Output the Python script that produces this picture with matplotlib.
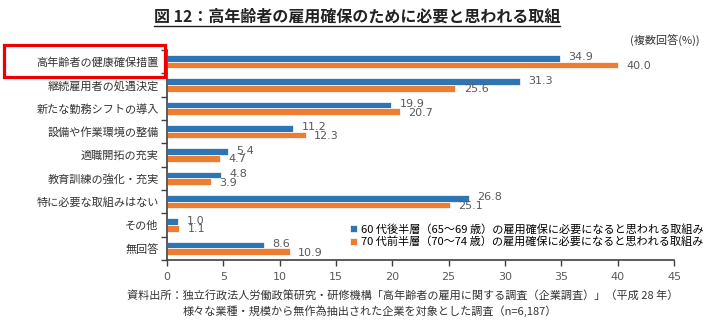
import numpy as np
import matplotlib
matplotlib.use("Agg")
from matplotlib import pyplot as plt
from matplotlib.patches import Rectangle
from matplotlib.lines import Line2D

plt.rcParams["font.family"] = ["Noto Sans CJK JP", "DejaVu Sans"]

# データ
categories = [
    "高年齢者の健康確保措置",
    "継続雇用者の処遇決定",
    "新たな勤務シフトの導入",
    "設備や作業環境の整備",
    "適職開拓の充実",
    "教育訓練の強化・充実",
    "特に必要な取組みはない",
    "その他",
    "無回答",
]
late60s = [34.9, 31.3, 19.9, 11.2, 5.4, 4.8, 26.8, 1.0, 8.6]
early70s = [40.0, 25.6, 20.7, 12.3, 4.7, 3.9, 25.1, 1.1, 10.9]
series_names = [
    "60 代後半層（65～69 歳）の雇用確保に必要になると思われる取組み",
    "70 代前半層（70～74 歳）の雇用確保に必要になると思われる取組み",
]
x_ticks = [0, 5, 10, 15, 20, 25, 30, 35, 40, 45]

BLUE = "#2E75B6"
ORANGE = "#ED7D31"
GRAY = "#595959"

W, H = 728, 322
fig = plt.figure(figsize=(W / 100, H / 100), dpi=100)
ax = fig.add_axes([167 / W, 62 / H, 507 / W, 210 / H])

y = np.arange(len(categories))
bh = 0.28
b1 = ax.barh(y - bh / 2, late60s, height=bh, color=BLUE, edgecolor="white", linewidth=0.5)
b2 = ax.barh(y + bh / 2, early70s, height=bh, color=ORANGE, edgecolor="white", linewidth=0.5)

# 数値ラベル
for yi, v in zip(y, late60s):
    ax.annotate(f"{v:.1f}", (v, yi - bh / 2 - 0.05), xytext=(6, 0), textcoords="offset points",
                va="center", ha="left", fontsize=8, color=GRAY, family="DejaVu Sans")
for yi, v in zip(y, early70s):
    ax.annotate(f"{v:.1f}", (v, yi + bh / 2 + 0.05), xytext=(6, 0), textcoords="offset points",
                va="center", ha="left", fontsize=8, color=GRAY, family="DejaVu Sans")

ax.set_xlim(0, 45)
ax.set_ylim(len(categories) - 0.5, -0.5)
ax.set_xticks(x_ticks)
ax.set_xticklabels([str(t) for t in x_ticks], family="DejaVu Sans")
ax.tick_params(axis="x", length=4, width=1, colors="#404040", labelcolor=GRAY, labelsize=8, pad=5)

ax.set_yticks(y)
ax.set_yticklabels(categories, fontsize=8, color="#333333")
ax.set_yticks(np.arange(-0.5, len(categories), 1), minor=True)
ax.tick_params(axis="y", which="major", length=0, pad=6)
ax.tick_params(axis="y", which="minor", length=4, width=1, color="#404040")

for side in ["top", "right"]:
    ax.spines[side].set_visible(False)
for side in ["left", "bottom"]:
    ax.spines[side].set_color("#404040")
    ax.spines[side].set_linewidth(1.2)

# 凡例
fig.legend([b1, b2], series_names, loc="upper left", bbox_to_anchor=(350 / W, 1 - 224 / H),
           frameon=False, fontsize=8, handlelength=0.6, handleheight=0.6,
           handletextpad=0.4, labelspacing=0.15, borderpad=0, borderaxespad=0)

# タイトル(下線付き)
title = fig.text(357 / W, 1 - 17 / H, "図 12：高年齢者の雇用確保のために必要と思われる取組",
                 ha="center", va="center", fontsize=11.5, fontweight="bold", color="#222222")
fig.canvas.draw()
bb = title.get_window_extent(renderer=fig.canvas.get_renderer())
fig.add_artist(Line2D([bb.x0 / W, bb.x1 / W], [(bb.y0 - 1) / H, (bb.y0 - 1) / H],
                      transform=fig.transFigure, color="#222222", linewidth=1))

fig.text(700 / W, 1 - 41 / H, "(複数回答(%))", ha="right", va="center", fontsize=8, color="#333333")

# 赤枠
fig.add_artist(Rectangle((4 / W, 1 - 77 / H), 161 / W, 32 / H, transform=fig.transFigure,
                         fill=False, edgecolor="#EE0000", linewidth=2.3))

# 出所
fig.text(127 / W, 1 - 296 / H,
         "資料出所：独立行政法人労働政策研究・研修機構「高年齢者の雇用に関する調査（企業調査）」（平成 28 年）",
         ha="left", va="center", fontsize=8, color="#333333")
fig.text(183 / W, 1 - 311 / H,
         "様々な業種・規模から無作為抽出された企業を対象とした調査（n=6,187）",
         ha="left", va="center", fontsize=8, color="#333333")

fig.savefig("out.png", dpi=100)
